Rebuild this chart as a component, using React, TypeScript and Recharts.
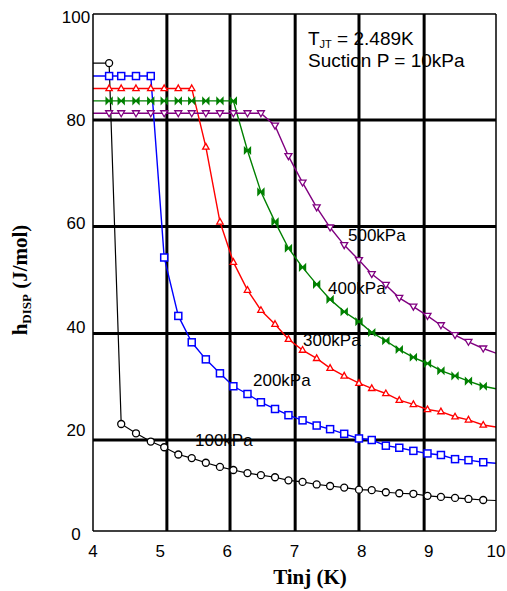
import { ComposedChart, Line, Scatter, XAxis, YAxis, ReferenceLine } from 'recharts';

// injection temperature (K) of each marker; first and last entries are where the fitted curves meet the frame
const tinj = [4.0, 4.24, 4.42, 4.64, 4.86, 5.06, 5.27, 5.47, 5.68, 5.89, 6.09, 6.3, 6.5, 6.71, 6.91, 7.12, 7.33, 7.53, 7.74, 7.96, 8.15, 8.36, 8.56, 8.77, 8.98, 9.18, 9.39, 9.59, 9.81, 10.0];

// h_DISP (J/mol) per injection pressure
const h100 = [90.5, 90.5, 20.7, 18.9, 17.3, 16.2, 14.8, 14.1, 13.2, 12.4, 11.8, 11.2, 10.8, 10.4, 9.8, 9.5, 9.0, 8.7, 8.4, 8.0, 7.9, 7.5, 7.3, 7.2, 6.8, 6.6, 6.4, 6.2, 6.0, 5.9];
const h200 = [88.0, 88.0, 88.0, 88.0, 88.0, 52.9, 41.6, 36.5, 33.2, 30.5, 28.0, 26.5, 24.9, 23.6, 22.4, 21.4, 20.4, 19.7, 18.8, 17.9, 17.6, 16.5, 16.1, 15.5, 15.0, 14.7, 13.9, 13.7, 13.3, 13.1];
const h300 = [85.6, 85.6, 85.6, 85.6, 85.6, 85.6, 85.6, 85.6, 74.3, 59.8, 52.0, 46.6, 42.7, 40.0, 37.1, 35.0, 33.4, 31.5, 30.0, 28.6, 27.6, 26.6, 25.3, 24.5, 23.5, 23.1, 22.1, 21.5, 20.5, 20.1];
const h400 = [83.2, 83.2, 83.2, 83.2, 83.2, 83.2, 83.2, 83.2, 83.2, 83.2, 83.2, 73.6, 65.6, 59.8, 54.7, 51.0, 47.7, 44.8, 42.4, 40.5, 38.4, 36.8, 35.1, 33.6, 32.4, 31.0, 30.0, 29.0, 28.0, 27.5];
const h500 = [80.8, 80.8, 80.8, 80.8, 80.8, 80.8, 80.8, 80.8, 80.8, 80.8, 80.8, 80.8, 80.8, 78.4, 72.5, 67.4, 62.6, 58.7, 55.3, 52.4, 49.7, 47.6, 45.1, 43.4, 41.6, 39.8, 37.9, 36.6, 35.3, 34.4];

const xTicks = [4, 5, 6, 7, 8, 9, 10];
const yTicks = [0, 20, 40, 60, 80, 100];
const xMinor = [4.5, 5.5, 6.5, 7.5, 8.5, 9.5];
const yMinor = [10, 30, 50, 70, 90];
// the heavy hand-drawn grid lines
const gridT = [5.1, 6.04, 7.01, 7.96, 8.93];
const gridH = [79.5, 58.9, 38.2, 17.6];

const sans = 'Liberation Sans, Arial, sans-serif';
const serif = 'Liberation Serif, Times New Roman, serif';

const series = [
  { name: '100kPa', ys: h100, color: '#000000', kind: 'circle', width: 1.2 },
  { name: '200kPa', ys: h200, color: '#0000ff', kind: 'square', width: 1.4 },
  { name: '300kPa', ys: h300, color: '#ff0000', kind: 'up', width: 1.4 },
  { name: '400kPa', ys: h400, color: '#008000', kind: 'bowtie', width: 1.4 },
  { name: '500kPa', ys: h500, color: '#800080', kind: 'down', width: 1.4 },
];

const toPoints = (ys: number[]) => tinj.map((t, i) => ({ x: t, y: ys[i] }));

function Marker({ cx, cy, kind, color }: any) {
  if (cx == null || cy == null) return null;
  if (kind === 'circle')
    return <circle cx={cx} cy={cy} r={3.5} fill="#fff" stroke={color} strokeWidth={1.3} />;
  if (kind === 'square')
    return <rect x={cx - 3.5} y={cy - 3.5} width={7} height={7} fill="#fff" stroke={color} strokeWidth={1.5} />;
  if (kind === 'up')
    return <path d={`M${cx},${cy - 3.5} L${cx + 3.2},${cy + 2.2} L${cx - 3.2},${cy + 2.2} Z`} fill="#fff" stroke={color} strokeWidth={1.3} />;
  if (kind === 'down')
    return <path d={`M${cx},${cy + 3.5} L${cx + 3.5},${cy - 2.5} L${cx - 3.5},${cy - 2.5} Z`} fill="#fff" stroke={color} strokeWidth={1.3} />;
  return <path d={`M${cx - 3},${cy - 3} L${cx + 3},${cy + 3} L${cx + 3},${cy - 3} L${cx - 3},${cy + 3} Z`} fill={color} stroke={color} strokeWidth={1.3} />;
}

const XTick = ({ x, y, payload }: any) => (
  <text x={x} y={y + 18} textAnchor="middle" fontSize={17} fontFamily={sans} fill="#000">{payload.value}</text>
);
const YTick = ({ y, payload }: any) => (
  <text x={76} y={y + 8.5} textAnchor="middle" fontSize={17} fontFamily={sans} fill="#000">{payload.value}</text>
);

export default function App() {
  return (
    <div style={{ position: 'absolute', left: 0, top: 0, width: 507, height: 591, background: '#fff' }}>
      {/* text layer sits under the chart so the grid lines cross it */}
      <svg width={507} height={591} style={{ position: 'absolute', left: 0, top: 0 }}>
        <text x={308} y={45} fontSize={19} fontFamily={sans}>
          T<tspan fontSize={11} dy={3}>JT</tspan><tspan dy={-3}> = 2.489K</tspan>
        </text>
        <text x={308} y={67} fontSize={19} fontFamily={sans}>Suction P = 10kPa</text>
        <g fontSize={17} fontFamily={sans}>
          <text x={195} y={446}>100kPa</text>
          <text x={253} y={386}>200kPa</text>
          <text x={303} y={346}>300kPa</text>
          <text x={328} y={294}>400kPa</text>
          <text x={348} y={241}>500kPa</text>
        </g>
        <text x={310} y={584} textAnchor="middle" fontSize={21} fontWeight="bold" fontFamily={serif}>Tinj (K)</text>
        <text x={27} y={280} transform="rotate(-90, 27, 280)" textAnchor="middle" fontSize={21} fontWeight="bold" fontFamily={serif}>
          h<tspan fontSize={13} dy={4}>DISP</tspan><tspan dy={-4}> (J/mol)</tspan>
        </text>
      </svg>
      <div style={{ position: 'absolute', left: 0, top: 0 }}>
        <ComposedChart width={507} height={591} margin={{ top: 14, right: 11, bottom: 30, left: 0 }}>
          <XAxis type="number" dataKey="x" domain={[4, 10]} ticks={xTicks} allowDataOverflow height={30}
            tickLine={false} axisLine={{ stroke: '#000', strokeWidth: 1.5 }} tick={<XTick />} />
          <XAxis xAxisId="top" orientation="top" mirror type="number" domain={[4, 10]} ticks={xMinor} allowDataOverflow
            tick={false} tickSize={6} tickLine={{ stroke: '#000', strokeWidth: 1.2 }} axisLine={{ stroke: '#000', strokeWidth: 1.5 }} />
          <XAxis xAxisId="bottomMinor" orientation="bottom" mirror type="number" domain={[4, 10]} ticks={xMinor} allowDataOverflow
            tick={false} tickSize={6} tickLine={{ stroke: '#000', strokeWidth: 1.2 }} axisLine={false} />
          <YAxis type="number" dataKey="y" domain={[0, 100]} ticks={yTicks} allowDataOverflow width={93}
            tickLine={false} axisLine={{ stroke: '#000', strokeWidth: 1.5 }} tick={<YTick />} />
          <YAxis yAxisId="leftMinor" orientation="left" mirror type="number" domain={[0, 100]} ticks={yMinor} allowDataOverflow
            tick={false} tickSize={6} tickLine={{ stroke: '#000', strokeWidth: 1.2 }} axisLine={false} />
          <YAxis yAxisId="right" orientation="right" mirror type="number" domain={[0, 100]} ticks={yMinor} allowDataOverflow
            tick={false} tickSize={6} tickLine={{ stroke: '#000', strokeWidth: 1.2 }} axisLine={{ stroke: '#000', strokeWidth: 1.5 }} />

          {gridT.map((t) => (
            <ReferenceLine key={'t' + t} x={t} stroke="#000" strokeWidth={3} />
          ))}
          {gridH.map((h) => (
            <ReferenceLine key={'h' + h} y={h} stroke="#000" strokeWidth={3} />
          ))}

          {series.map((s) => (
            <Line key={s.name + 'line'} data={toPoints(s.ys)} dataKey="y" type="linear" stroke={s.color}
              strokeWidth={s.width} dot={false} activeDot={false} isAnimationActive={false} />
          ))}
          {series.map((s) => (
            <Scatter key={s.name + 'pts'} data={toPoints(s.ys).slice(1, -1)} fill={s.color} isAnimationActive={false}
              shape={(p: any) => <Marker cx={p.cx} cy={p.cy} kind={s.kind} color={s.color} />} />
          ))}
        </ComposedChart>
      </div>
    </div>
  );
}
